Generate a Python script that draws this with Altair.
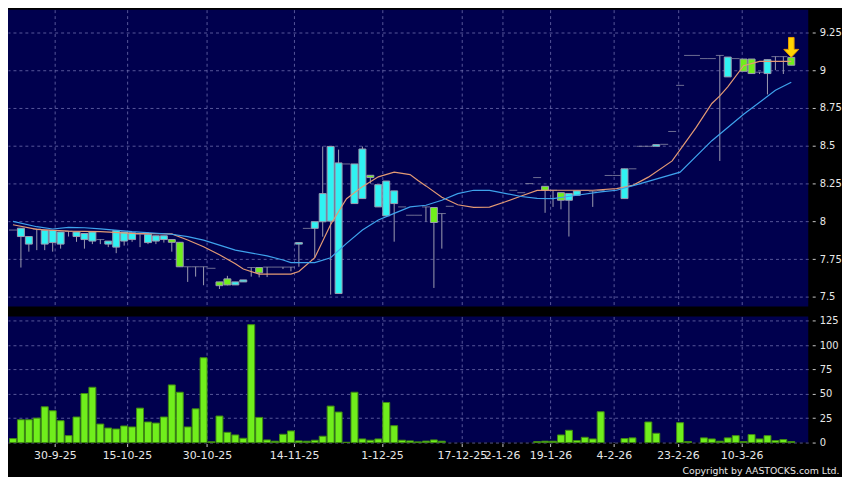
import altair as alt
import pandas as pd

# ---------------- data ----------------
# trading-day index of each candle (days 56-62 have no candle)
cidx = list(range(0, 56)) + list(range(63, 99))
c_open = [7.943, 7.90, 7.85, 7.95, 7.85, 7.86, 7.85, 7.935, 7.90, 7.88,
          7.87, 7.88, 7.85, 7.83, 7.87, 7.88, 7.915, 7.86, 7.87, 7.88,
          7.88, 7.862, 7.70, 7.70, 7.70, 7.69, 7.60, 7.62, 7.58, 7.60,
          7.695, 7.695, 7.698, 7.698, 7.698, 7.698, 7.85, 7.954, 7.954, 7.998,
          8.002, 7.523, 8.38, 8.118, 8.151, 8.305, 8.096, 8.037, 8.118, 8.096,
          8.041, 8.041, 8.096, 8.092, 8.052, 8.10,
          8.206, 8.19, 8.25, 8.29, 8.232, 8.206, 8.19, 8.14, 8.173, 8.205,
          8.20, 8.205, 8.304, 8.304, 8.151, 8.348, 8.497, 8.497, 8.497, 8.51,
          8.595, 8.90, 9.098, 9.098, 9.077, 9.077, 9.098, 8.956, 9.077, 9.074,
          9.074, 8.987, 8.978, 9.09, 9.09, 9.085]
c_high = [7.943, 7.955, 7.90, 7.95, 7.94, 7.94, 7.93, 7.935, 7.93, 7.92,
          7.93, 7.88, 7.87, 7.94, 7.93, 7.925, 7.915, 7.93, 7.905, 7.905,
          7.88, 7.862, 7.70, 7.70, 7.70, 7.69, 7.60, 7.64, 7.60, 7.613,
          7.695, 7.695, 7.698, 7.698, 7.698, 7.698, 7.86, 7.954, 7.998, 8.496,
          8.496, 8.475, 8.38, 8.38, 8.496, 8.305, 8.243, 8.267, 8.202, 8.096,
          8.041, 8.041, 8.096, 8.092, 8.052, 8.10,
          8.206, 8.19, 8.25, 8.29, 8.232, 8.206, 8.19, 8.184, 8.202, 8.205,
          8.20, 8.205, 8.304, 8.304, 8.348, 8.348, 8.497, 8.497, 8.508, 8.51,
          8.595, 8.90, 9.098, 9.098, 9.077, 9.077, 9.098, 9.087, 9.077, 9.074,
          9.074, 8.987, 9.07, 9.09, 9.09, 9.085]
c_low = [7.943, 7.695, 7.80, 7.81, 7.81, 7.80, 7.82, 7.90, 7.865, 7.82,
         7.85, 7.85, 7.83, 7.79, 7.84, 7.865, 7.83, 7.85, 7.85, 7.86,
         7.80, 7.70, 7.60, 7.635, 7.578, 7.69, 7.553, 7.577, 7.58, 7.60,
         7.635, 7.63, 7.632, 7.698, 7.685, 7.67, 7.70, 7.954, 7.76, 7.899,
         7.516, 7.523, 8.38, 8.118, 8.151, 8.25, 8.096, 8.037, 7.866, 8.096,
         8.041, 8.041, 7.998, 7.56, 7.82, 8.10,
         8.206, 8.19, 8.25, 8.29, 8.057, 8.096, 8.08, 7.90, 8.173, 8.205,
         8.096, 8.205, 8.304, 8.304, 8.151, 8.348, 8.497, 8.497, 8.497, 8.51,
         8.595, 8.90, 9.098, 9.098, 9.077, 9.077, 8.40, 8.956, 9.077, 8.993,
         8.978, 8.975, 8.84, 9.00, 8.975, 9.033]
c_close = [7.943, 7.955, 7.90, 7.95, 7.94, 7.94, 7.93, 7.935, 7.93, 7.92,
           7.93, 7.88, 7.87, 7.94, 7.93, 7.925, 7.915, 7.915, 7.905, 7.905,
           7.862, 7.70, 7.70, 7.70, 7.70, 7.69, 7.575, 7.58, 7.60, 7.613,
           7.695, 7.66, 7.698, 7.698, 7.698, 7.698, 7.86, 7.954, 7.998, 8.184,
           8.496, 8.387, 8.38, 8.38, 8.479, 8.29, 8.243, 8.267, 8.202, 8.096,
           8.041, 8.041, 8.096, 7.993, 8.052, 8.10,
           8.206, 8.19, 8.25, 8.29, 8.206, 8.206, 8.14, 8.184, 8.202, 8.205,
           8.20, 8.205, 8.304, 8.304, 8.348, 8.348, 8.497, 8.497, 8.508, 8.51,
           8.595, 8.90, 9.098, 9.098, 9.077, 9.077, 9.098, 9.087, 9.077, 8.993,
           8.978, 8.987, 9.07, 9.09, 9.09, 9.033]

# volume (every trading-day index 0..98)
volume = [4.1, 23.4, 23.4, 25.1, 36.7, 32.6, 22.4, 7.1, 26.2, 50.3,
          56.7, 19.0, 14.9, 13.9, 17.0, 16.0, 35.3, 21.1, 20.0, 26.2,
          59.1, 51.6, 16.0, 34.6, 87.0, 0.8, 27.2, 10.5, 7.8, 4.4,
          120.9, 25.8, 2.7, 1.4, 8.5, 11.9, 1.7, 1.4, 2.4, 6.5,
          37.4, 31.3, 0.3, 51.6, 3.7, 2.4, 3.7, 41.1, 17.3, 2.4,
          1.7, 0.7, 1.5, 2.7, 1.4, 0, 0, 0, 0, 0,
          0, 0, 0, 0, 0, 0, 1.0, 1.4, 1.4, 7.8,
          12.6, 2.0, 5.4, 3.7, 31.6, 0, 0, 4.1, 4.8, 0,
          21.1, 9.5, 0, 0, 20.4, 1.0, 0, 4.8, 3.7, 1.4,
          4.8, 7.1, 1.0, 8.2, 3.7, 7.1, 2.0, 3.1, 1.0]

# moving averages read at sample days
ma_s_idx = [0, 3, 7, 11, 15, 20, 22, 24, 26, 28, 29, 31, 35, 36, 38, 40, 42, 44,
            46, 48, 50, 51, 52, 54, 56, 58, 60, 62, 64, 66, 68, 73, 76, 78, 79,
            80, 83, 86, 88, 89, 90, 92, 94, 98]
ma_s_val = [7.978, 7.947, 7.936, 7.932, 7.921, 7.917, 7.877, 7.833, 7.779, 7.72,
            7.685, 7.652, 7.652, 7.669, 7.76, 7.98, 8.15, 8.23, 8.295, 8.326,
            8.31, 8.27, 8.235, 8.16, 8.11, 8.093, 8.095, 8.13, 8.168, 8.205,
            8.206, 8.206, 8.217, 8.238, 8.265, 8.293, 8.40, 8.62, 8.78, 8.83,
            8.89, 9.03, 9.059, 9.059]
ma_l_idx = [0, 3, 5, 7, 9, 11, 15, 20, 22, 24, 28, 32, 34, 35, 38, 40, 42, 44,
            46, 48, 50, 52, 54, 56, 58, 60, 61, 64, 66, 68, 71, 74, 76, 79, 84,
            88, 92, 96, 98]
ma_l_val = [8.0, 7.965, 7.95, 7.961, 7.958, 7.951, 7.932, 7.915, 7.899, 7.876,
            7.81, 7.772, 7.745, 7.728, 7.728, 7.76, 7.855, 7.943, 8.009, 8.053,
            8.096, 8.107, 8.14, 8.184, 8.206, 8.205, 8.195, 8.165, 8.152, 8.151,
            8.173, 8.195, 8.206, 8.25, 8.326, 8.534, 8.709, 8.867, 8.921]

# marker over the latest bar
arrow_idx = [98]
arrow_val = [9.151]

# date axis
tick_pos = [5.27, 14.35, 24.43, 35.4, 46.46, 56.52, 61.58, 67.68, 75.67, 83.73, 91.75]
tick_lab = ["30-9-25", "15-10-25", "30-10-25", "14-11-25", "1-12-25", "17-12-25",
            "2-1-26", "19-1-26", "4-2-26", "23-2-26", "10-3-26"]
price_ticks = [7.5, 7.75, 8, 8.25, 8.5, 8.75, 9, 9.25]
vol_ticks = [0, 25, 50, 75, 100, 125]

# ---------------- styling ----------------
NAVY = "#00004e"
CYAN = "#30f2f2"
LIME = "#70ee1c"
GREY = "#9c9cb0"
ORANGE = "#e39a74"
BLUE = "#3ea2ec"
TXT = "#e8e8e8"
GRID = "#7474b4"

kind = []
for o, c in zip(c_open, c_close):
    kind.append("flat" if abs(o - c) < 1e-9 else ("up" if c > o else "down"))
candles = pd.DataFrame({"i": cidx, "o": c_open, "h": c_high, "l": c_low,
                        "c": c_close, "kind": kind})
vol_df = pd.DataFrame({"i": list(range(len(volume))), "v": volume})
ma_s = pd.DataFrame({"i": ma_s_idx, "v": ma_s_val})
ma_l = pd.DataFrame({"i": ma_l_idx, "v": ma_l_val})
arrow_df = pd.DataFrame({"i": arrow_idx, "v": arrow_val})

# label expression for the date axis
expr = "'" + tick_lab[-1] + "'"
for k in range(len(tick_pos) - 2, -1, -1):
    mid = (tick_pos[k] + tick_pos[k + 1]) / 2
    expr = f"datum.value < {mid:.3f} ? '{tick_lab[k]}' : ({expr})"

W = 806
XDOM = [0, 99.51]

xs = alt.Scale(domain=XDOM, nice=False, zero=False)
x_main_axis = alt.Axis(values=tick_pos, labels=False, ticks=False, domain=False,
                       grid=True, gridColor=GRID, gridDash=[3, 3], gridOpacity=0.75,
                       title=None)
ys = alt.Scale(domain=[7.437, 9.4005], nice=False, zero=False)
y_axis = alt.Axis(orient="right", values=price_ticks, format=".4~g", offset=4,
                  tickSize=3, tickColor="#c8c8c8", labelPadding=4, domain=False,
                  grid=True, gridColor=GRID, gridDash=[3, 3], gridOpacity=0.75,
                  labelColor=TXT, labelFont="DejaVu Sans", labelFontSize=10,
                  title=None)


def X():
    return alt.X("i:Q", scale=xs, axis=x_main_axis)


def Y(field):
    return alt.Y(f"{field}:Q", scale=ys, axis=y_axis)


wicks = alt.Chart(candles).transform_filter("datum.h > datum.l").mark_rule(
    color=GREY, strokeWidth=1).encode(x=X(), y=Y("l"), y2="h:Q")

bodies = alt.Chart(candles).transform_filter("datum.kind != 'flat'").mark_bar(
    size=7, stroke=GREY, strokeWidth=1).encode(
    x=X(), y=Y("o"), y2="c:Q",
    color=alt.Color("kind:N", scale=alt.Scale(domain=["up", "down"], range=[CYAN, LIME]),
                    legend=None))

dojis = alt.Chart(candles).transform_filter("datum.kind == 'flat'").mark_tick(
    orient="horizontal", size=8, thickness=1, color=GREY).encode(x=X(), y=Y("c"))

line_s = alt.Chart(ma_s).mark_line(color=ORANGE, strokeWidth=1.2, clip=True).encode(
    x=X(), y=Y("v"))
line_l = alt.Chart(ma_l).mark_line(color=BLUE, strokeWidth=1.2, clip=True).encode(
    x=X(), y=Y("v"))

ARROW = "M -0.28 -1 L 0.28 -1 L 0.28 0.2 L 0.75 0.2 L 0 1 L -0.75 0.2 L -0.28 0.2 Z"
arrow = alt.Chart(arrow_df).mark_point(shape=ARROW, size=400, filled=True,
                                       fill="#ffd400", stroke="#e89a00",
                                       strokeWidth=1, opacity=1).encode(x=X(), y=Y("v"))

main = alt.layer(wicks, bodies, dojis, line_s, line_l, arrow).properties(
    width=W, height=299)

vol = alt.Chart(vol_df).transform_filter("datum.v > 0").mark_bar(
    size=7, color=LIME, stroke="#3f8a12", strokeWidth=1).encode(
    x=alt.X("i:Q", scale=xs,
            axis=alt.Axis(values=tick_pos, labelExpr=expr, labelOverlap=False,
                          labelFlush=False, labelBound=False, offset=1, tickSize=3,
                          tickColor="#c8c8c8", labelPadding=3, domain=False,
                          grid=True, gridColor=GRID, gridDash=[3, 3], gridOpacity=0.75,
                          labelColor=TXT, labelFont="DejaVu Sans", labelFontSize=11,
                          title="Copyright by AASTOCKS.com Ltd.", titleX=837, titleY=30,
                          titleAlign="right", titleBaseline="alphabetic",
                          titleAnchor="end", titleColor=TXT, titleFont="DejaVu Sans",
                          titleFontSize=9.4, titleFontWeight="normal")),
    y=alt.Y("v:Q", scale=alt.Scale(domain=[0, 129.3], nice=False),
            axis=alt.Axis(orient="right", values=vol_ticks, offset=4, tickSize=3,
                          tickColor="#c8c8c8", labelPadding=4, domain=False,
                          grid=True, gridColor=GRID, gridDash=[3, 3], gridOpacity=0.75,
                          labelColor=TXT, labelFont="DejaVu Sans", labelFontSize=10,
                          title=None))
).properties(width=W, height=127)

chart = alt.vconcat(main, vol, spacing=10, bounds="flush").properties(
    background="#000000",
    padding=0,
).configure_view(fill=NAVY, strokeWidth=0)

chart.save("out.html", embed_options={"renderer": "svg", "actions": False})
